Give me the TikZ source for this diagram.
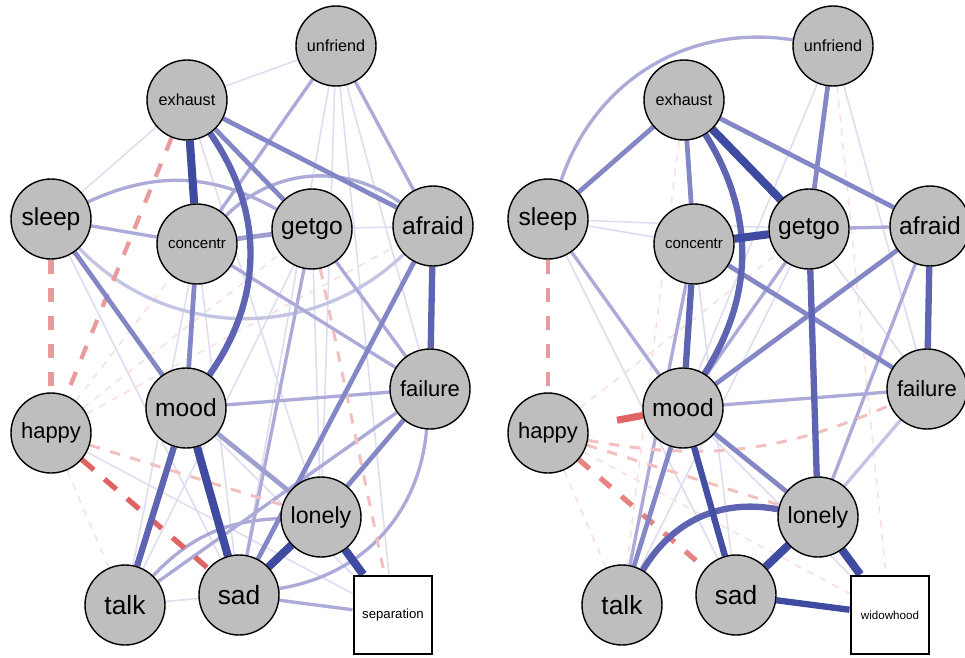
\documentclass[tikz,border=0pt]{standalone}
\usepackage{fontspec}
\setmainfont{Liberation Sans}
\usepackage{tikz}
\usetikzlibrary{backgrounds}
\definecolor{nodegray}{HTML}{BEBEBE}
\definecolor{posA}{HTML}{3E4BA0}
\definecolor{posB}{HTML}{5E63B2}
\definecolor{posC}{HTML}{8487C6}
\definecolor{posD}{HTML}{ABAAD9}
\definecolor{posE}{HTML}{DEDDF1}
\definecolor{negA}{HTML}{E06464}
\definecolor{negB}{HTML}{E99A9A}
\definecolor{negC}{HTML}{F3C0C0}
\definecolor{negD}{HTML}{FADCDC}

\begin{document}
\begin{tikzpicture}[
    var/.style={circle, draw=black, line width=0.8pt, fill=nodegray,
                minimum size=1.6cm, inner sep=0pt},
    grp/.style={rectangle, draw=black, line width=1.7pt, fill=white,
                minimum size=1.56cm, inner sep=0pt},
    big/.style={font=\fontsize{14}{16}\selectfont},
    mid/.style={font=\fontsize{12.5}{14}\selectfont},
    sml/.style={font=\fontsize{9.2}{11}\selectfont},
    pfive/.style={line width=4.6pt, posA},
    pfour/.style={line width=3.6pt, posB},
    pthree/.style={line width=2.7pt, posC},
    ptwo/.style={line width=1.9pt, posD},
    pone/.style={line width=0.9pt, posE},
    nthree/.style={line width=3pt, negA, dash pattern=on 9pt off 8pt},
    ntwo/.style={line width=2.4pt, negB, dash pattern=on 8pt off 8pt},
    none/.style={line width=1.7pt, negC, dash pattern=on 6pt off 6pt},
    nzero/.style={line width=0.8pt, negD, dash pattern=on 4pt off 4pt},
]
    \useasboundingbox (0,0) rectangle (19.3,-13.16);

    % left network
    \node[var, sml] (unfriendL) at (6.72,-0.92) {unfriend};
    \node[var, sml] (exhaustL) at (3.74,-2.0) {exhaust};
    \node[var, big] (sleepL) at (1.02,-4.38) {sleep};
    \node[var, font=\fontsize{8.6}{10}\selectfont] (concentrL) at (3.94,-4.88) {concentr};
    \node[var, big] (getgoL) at (6.24,-4.58) {getgo};
    \node[var, big] (afraidL) at (8.66,-4.52) {afraid};
    \node[var, mid] (failureL) at (8.6,-7.78) {failure};
    \node[var, big] (moodL) at (3.72,-8.16) {mood};
    \node[var, mid] (happyL) at (1.02,-8.66) {happy};
    \node[var, font=\fontsize{13.2}{15}\selectfont] (lonelyL) at (6.42,-10.34) {lonely};
    \node[var, font=\fontsize{15}{17}\selectfont] (talkL) at (2.5,-12.1) {talk};
    \node[var, font=\fontsize{15}{17}\selectfont] (sadL) at (4.78,-11.9) {sad};
    \node[grp, font=\fontsize{7.5}{9}\selectfont] (separationL) at (7.86,-12.3) {separation};

    % right network
    \begin{scope}[xshift=9.94cm]
    \node[var, sml] (unfriendR) at (6.72,-0.92) {unfriend};
    \node[var, sml] (exhaustR) at (3.74,-2.0) {exhaust};
    \node[var, big] (sleepR) at (1.02,-4.38) {sleep};
    \node[var, font=\fontsize{8.6}{10}\selectfont] (concentrR) at (3.94,-4.88) {concentr};
    \node[var, big] (getgoR) at (6.24,-4.58) {getgo};
    \node[var, big] (afraidR) at (8.66,-4.52) {afraid};
    \node[var, mid] (failureR) at (8.6,-7.78) {failure};
    \node[var, big] (moodR) at (3.72,-8.16) {mood};
    \node[var, mid] (happyR) at (1.02,-8.66) {happy};
    \node[var, font=\fontsize{13.2}{15}\selectfont] (lonelyR) at (6.42,-10.34) {lonely};
    \node[var, font=\fontsize{15}{17}\selectfont] (talkR) at (2.5,-12.1) {talk};
    \node[var, font=\fontsize{15}{17}\selectfont] (sadR) at (4.78,-11.9) {sad};
    \node[grp, font=\fontsize{6.6}{8}\selectfont] (widowhoodR) at (7.86,-12.3) {widowhood};
    \end{scope}

    \begin{scope}[on background layer]
    % left edges, faint first
    \draw[pone] (exhaustL) -- (sleepL);
    \draw[pone] (exhaustL) -- (unfriendL);
    \draw[pone] (exhaustL) -- (lonelyL);
    \draw[pone] (sleepL) -- (sadL);
    \draw[pone] (getgoL) -- (afraidL);
    \draw[pone] (getgoL) -- (talkL);
    \draw[pone] (getgoL) -- (lonelyL);
    \draw[pone] (unfriendL) -- (lonelyL);
    \draw[pone] (unfriendL) -- (sadL);
    \draw[pone] (unfriendL) -- (separationL);
    \draw[pone] (unfriendL) -- (failureL);
    \draw[pone] (concentrL) -- (talkL);
    \draw[pone] (concentrL) -- (sadL);
    \draw[pone] (talkL) -- (sadL);
    \draw[pone] (moodL) -- (separationL);
    \draw[pone] (happyL) -- (separationL);
    \draw[nzero] (happyL) -- (getgoL);
    \draw[nzero] (happyL) -- (afraidL);
    \draw[nzero] (happyL) -- (concentrL);
    \draw[nzero] (happyL) -- (talkL);
    \draw[ptwo, posD!70] (sleepL) to[bend right=45] (afraidL);
    \draw[ptwo] (sleepL) -- (concentrL);
    \draw[ptwo] (sleepL) to[bend left=27] (getgoL);
    \draw[ptwo] (concentrL) to[bend left=40] (afraidL);
    \draw[ptwo] (concentrL) -- (failureL);
    \draw[ptwo] (concentrL) -- (unfriendL);
    \draw[ptwo] (getgoL) -- (sadL);
    \draw[ptwo] (getgoL) -- (failureL);
    \draw[ptwo] (afraidL) -- (unfriendL);
    \draw[ptwo] (moodL) -- (failureL);
    \draw[ptwo] (talkL) to[bend left=22] (lonelyL);
    \draw[ptwo] (talkL) -- (failureL);
    \draw[ptwo] (sadL) to[bend right=38] (failureL);
    \draw[ptwo] (sadL) -- (separationL);
    \draw[none] (happyL) -- (lonelyL);
    \draw[none] (getgoL) -- (separationL);
    \draw[ntwo] (exhaustL) -- (happyL);
    \draw[ntwo, line width=3pt] (sleepL) -- (happyL);
    \draw[nthree] (happyL) -- (sadL);
    \draw[pthree] (exhaustL) -- (getgoL);
    \draw[pthree] (exhaustL) -- (afraidL);
    \draw[pthree] (sleepL) -- (moodL);
    \draw[pthree] (concentrL) -- (moodL);
    \draw[pthree, posC!80] (concentrL) -- (getgoL);
    \draw[pthree] (afraidL) -- (sadL);
    \draw[pthree] (lonelyL) -- (failureL);
    \draw[pthree, posC!80] (moodL) -- (lonelyL);
    \draw[pfour] (exhaustL) to[bend left=35] (moodL);
    \draw[pfour] (afraidL) -- (failureL);
    \draw[pfour] (moodL) -- (talkL);
    \draw[pfive] (exhaustL) -- (concentrL);
    \draw[pfive] (moodL) -- (sadL);
    \draw[pfive] (lonelyL) -- (sadL);
    \draw[pfive] (lonelyL) -- (separationL);

    % right edges
    \draw[pone] (sleepR) -- (concentrR);
    \draw[pone] (sleepR) -- (getgoR);
    \draw[pone] (sleepR) -- (sadR);
    \draw[pone] (unfriendR) -- (moodR);
    \draw[pone] (unfriendR) -- (failureR);
    \draw[pone] (getgoR) -- (failureR);
    \draw[pone] (getgoR) -- (talkR);
    \draw[pone] (concentrR) -- (sadR);
    \draw[pone] (moodR) -- (widowhoodR);
    \draw[nzero] (happyR) -- (talkR);
    \draw[nzero] (happyR) -- (getgoR);
    \draw[nzero] (exhaustR) -- (talkR);
    \draw[nzero] (unfriendR) -- (widowhoodR);
    \draw[nzero] (happyR) -- (widowhoodR);
    \draw[ptwo] (unfriendR) to[bend right=40] (sleepR);
    \draw[ptwo] (getgoR) -- (afraidR);
    \draw[ptwo] (afraidR) -- (lonelyR);
    \draw[ptwo] (moodR) -- (failureR);
    \draw[ptwo] (sleepR) -- (moodR);
    \draw[ptwo] (getgoR) -- (moodR);
    \draw[ptwo] (talkR) -- (concentrR);
    \draw[ptwo, posD!70] (failureR) -- (lonelyR);
    \draw[none] (happyR) -- (lonelyR);
    \draw[none] (happyR) to[bend right=17] (failureR);
    \draw[ntwo] (sleepR) -- (happyR);
    \draw[ntwo, line width=3pt, negA!80] (happyR) -- (sadR);
    \draw[line width=4pt, negA, dash pattern=on 15pt off 30pt] (moodR) -- (happyR);
    \draw[pthree] (unfriendR) -- (getgoR);
    \draw[pthree] (exhaustR) -- (sleepR);
    \draw[pthree] (exhaustR) -- (concentrR);
    \draw[pthree] (exhaustR) -- (afraidR);
    \draw[pthree] (concentrR) -- (failureR);
    \draw[pthree] (afraidR) -- (moodR);
    \draw[pthree] (moodR) -- (lonelyR);
    \draw[pthree] (moodR) -- (talkR);
    \draw[pfour] (exhaustR) to[bend left=32] (moodR);
    \draw[pfour] (concentrR) -- (moodR);
    \draw[pfour] (getgoR) -- (lonelyR);
    \draw[pfour] (afraidR) -- (failureR);
    \draw[pfour] (talkR) to[bend left=35] (lonelyR);
    \draw[pfour, posA!85!posB] (moodR) -- (sadR);
    \draw[pfour, posA] (sadR) -- (widowhoodR);
    \draw[pfive] (exhaustR) -- (getgoR);
    \draw[pfive] (concentrR) -- (getgoR);
    \draw[pfive] (lonelyR) -- (sadR);
    \draw[pfive] (lonelyR) -- (widowhoodR);
    \end{scope}
\end{tikzpicture}
\end{document}
